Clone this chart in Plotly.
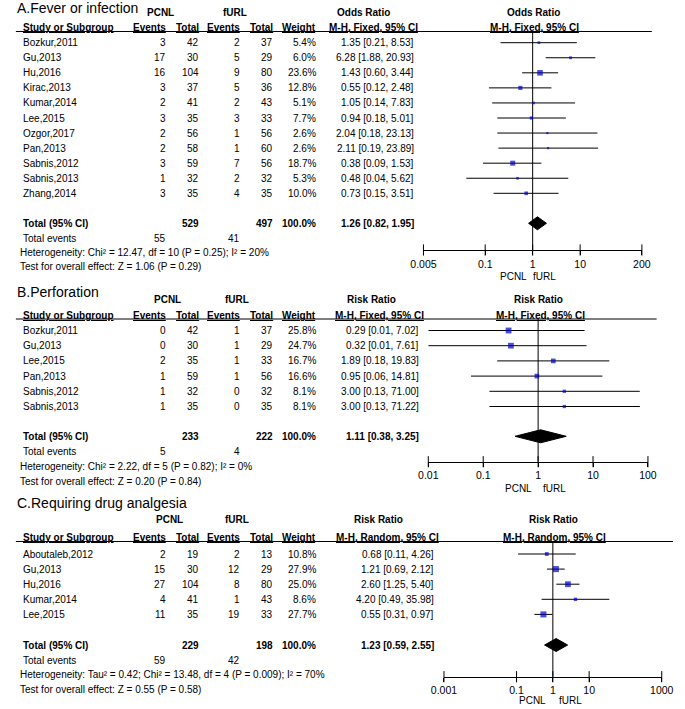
import math
import plotly.graph_objects as go

W, H = 685, 709
FONT = "Liberation Sans, Arial, sans-serif"

# ---------------- Panel A: Fever or infection ----------------
A_studies = ["Bozkur,2011", "Gu,2013", "Hu,2016", "Kirac,2013", "Kumar,2014", "Lee,2015",
             "Ozgor,2017", "Pan,2013", "Sabnis,2012", "Sabnis,2013", "Zhang,2014"]
A_pcnl_events = [3, 17, 16, 3, 2, 3, 2, 2, 3, 1, 3]
A_pcnl_total = [42, 30, 104, 37, 41, 35, 56, 58, 59, 32, 35]
A_furl_events = [2, 5, 9, 5, 2, 3, 1, 1, 7, 2, 4]
A_furl_total = [37, 29, 80, 36, 43, 33, 56, 60, 56, 32, 35]
A_weight = [5.4, 6.0, 23.6, 12.8, 5.1, 7.7, 2.6, 2.6, 18.7, 5.3, 10.0]
A_est = [1.35, 6.28, 1.43, 0.55, 1.05, 0.94, 2.04, 2.11, 0.38, 0.48, 0.73]
A_lo = [0.21, 1.88, 0.60, 0.12, 0.14, 0.18, 0.18, 0.19, 0.09, 0.04, 0.15]
A_hi = [8.53, 20.93, 3.44, 2.48, 7.83, 5.01, 23.13, 23.89, 1.53, 5.62, 3.51]
A_total = [529, 497]
A_total_events = [55, 41]
A_pooled = [1.26, 0.82, 1.95]
A_het = "Heterogeneity: Chi² = 12.47, df = 10 (P = 0.25); I² = 20%"
A_test = "Test for overall effect: Z = 1.06 (P = 0.29)"
A_ticks = [0.005, 0.1, 1, 10, 200]
A_ticklabels = ["0.005", "0.1", "1", "10", "200"]

# ---------------- Panel B: Perforation ----------------
B_studies = ["Bozkur,2011", "Gu,2013", "Lee,2015", "Pan,2013", "Sabnis,2012", "Sabnis,2013"]
B_pcnl_events = [0, 0, 2, 1, 1, 1]
B_pcnl_total = [42, 30, 35, 59, 32, 35]
B_furl_events = [1, 1, 1, 1, 0, 0]
B_furl_total = [37, 29, 33, 56, 32, 35]
B_weight = [25.8, 24.7, 16.7, 16.6, 8.1, 8.1]
B_est = [0.29, 0.32, 1.89, 0.95, 3.00, 3.00]
B_lo = [0.01, 0.01, 0.18, 0.06, 0.13, 0.13]
B_hi = [7.02, 7.61, 19.83, 14.81, 71.00, 71.22]
B_total = [233, 222]
B_total_events = [5, 4]
B_pooled = [1.11, 0.38, 3.25]
B_het = "Heterogeneity: Chi² = 2.22, df = 5 (P = 0.82); I² = 0%"
B_test = "Test for overall effect: Z = 0.20 (P = 0.84)"
B_ticks = [0.01, 0.1, 1, 10, 100]
B_ticklabels = ["0.01", "0.1", "1", "10", "100"]

# ---------------- Panel C: Requiring drug analgesia ----------------
C_studies = ["Aboutaleb,2012", "Gu,2013", "Hu,2016", "Kumar,2014", "Lee,2015"]
C_pcnl_events = [2, 15, 27, 4, 11]
C_pcnl_total = [19, 30, 104, 41, 35]
C_furl_events = [2, 12, 8, 1, 19]
C_furl_total = [13, 29, 80, 43, 33]
C_weight = [10.8, 27.9, 25.0, 8.6, 27.7]
C_est = [0.68, 1.21, 2.60, 4.20, 0.55]
C_lo = [0.11, 0.69, 1.25, 0.49, 0.31]
C_hi = [4.26, 2.12, 5.40, 35.98, 0.97]
C_total = [229, 198]
C_total_events = [59, 42]
C_pooled = [1.23, 0.59, 2.55]
C_het = "Heterogeneity: Tau² = 0.42; Chi² = 13.48, df = 4 (P = 0.009); I² = 70%"
C_test = "Test for overall effect: Z = 0.55 (P = 0.58)"
C_ticks = [0.001, 0.1, 1, 10, 1000]
C_ticklabels = ["0.001", "0.1", "1", "10", "1000"]

panels = [
    dict(title="A.Fever or infection", measure="Odds Ratio", method="M-H, Fixed, 95% CI",
         studies=A_studies, e1=A_pcnl_events, t1=A_pcnl_total, e2=A_furl_events, t2=A_furl_total,
         w=A_weight, est=A_est, lo=A_lo, hi=A_hi, tot=A_total, tev=A_total_events, pooled=A_pooled,
         het=A_het, test=A_test, ticks=A_ticks, ticklabels=A_ticklabels,
         ax="x", axname="xaxis",
         y_title=7.5, y_grp=12.5, y_hdr=27, y_rule=31.5, y_row0=42.7, step=15.06,
         y_total=223.3, y_tev=238.3, y_het=252.7, y_test=266.7, y_axis=250, y_dir=276,
         x_eff=415.7, x_meas=364, x_meth=374, x_pmeas=540, x_pmeth=541.5,
         x_pcnl=153, x_furl=230, rule_end=663, dom=(426, 652.7),
         dir_l=533.3, dir_r=540),
    dict(title="B.Perforation", measure="Risk Ratio", method="M-H, Fixed, 95% CI",
         studies=B_studies, e1=B_pcnl_events, t1=B_pcnl_total, e2=B_furl_events, t2=B_furl_total,
         w=B_weight, est=B_est, lo=B_lo, hi=B_hi, tot=B_total, tev=B_total_events, pooled=B_pooled,
         het=B_het, test=B_test, ticks=B_ticks, ticklabels=B_ticklabels,
         ax="x2", axname="xaxis2",
         y_title=291.7, y_grp=299, y_hdr=315, y_rule=319, y_row0=330.5, step=15.2,
         y_total=436.3, y_tev=451.3, y_het=466, y_test=481, y_axis=461.7, y_dir=488.3,
         x_eff=421, x_meas=372, x_meth=380, x_pmeas=545.5, x_pmeth=547.5,
         x_pcnl=160, x_furl=233, rule_end=668, dom=(431, 659),
         dir_l=538.3, dir_r=550),
    dict(title="C.Requiring drug analgesia", measure="Risk Ratio", method="M-H, Random, 95% CI",
         studies=C_studies, e1=C_pcnl_events, t1=C_pcnl_total, e2=C_furl_events, t2=C_furl_total,
         w=C_weight, est=C_est, lo=C_lo, hi=C_hi, tot=C_total, tev=C_total_events, pooled=C_pooled,
         het=C_het, test=C_test, ticks=C_ticks, ticklabels=C_ticklabels,
         ax="x3", axname="xaxis3",
         y_title=502.5, y_grp=519, y_hdr=537, y_rule=541.5, y_row0=554, step=15.1,
         y_total=645, y_tev=660, y_het=674.5, y_test=689, y_axis=676.7, y_dir=700,
         x_eff=437, x_meas=379, x_meth=389, x_pmeas=561, x_pmeth=562.5,
         x_pcnl=162, x_furl=232, rule_end=685, dom=(447.3, 673.3),
         dir_l=553.3, dir_r=566.7),
]

# column right edges (px)
X_NAME, X_E1, X_T1, X_E2, X_T2, X_W = 10, 159, 193, 236, 270, 314

fig = go.Figure()


def P(x):
    return x / W


def txt(x, y, s, anchor="left", bold=False, size=10, underline=False):
    if bold:
        s = "<b>" + s + "</b>"
    if underline:
        s = "<u>" + s + "</u>"
    fig.add_annotation(x=P(x), y=y, xref="paper", yref="y", text=s, showarrow=False,
                       xanchor=anchor, yanchor="middle", borderpad=0, borderwidth=0,
                       font=dict(family=FONT, size=size, color="black"))


shapes = []
layout_axes = {}

for p in panels:
    ax = p["ax"]
    # titles and headers
    txt(4, p["y_title"], p["title"], size=14)
    txt(p["x_pcnl"], p["y_grp"], "PCNL", anchor="center", bold=True)
    txt(p["x_furl"], p["y_grp"], "fURL", anchor="center", bold=True)
    txt(p["x_meas"], p["y_grp"], p["measure"], anchor="center", bold=True)
    txt(p["x_pmeas"], p["y_grp"], p["measure"], anchor="center", bold=True)
    txt(X_NAME, p["y_hdr"], "Study or Subgroup", bold=True, underline=True)
    txt(X_E1, p["y_hdr"], "Events", anchor="right", bold=True, underline=True)
    txt(X_T1, p["y_hdr"], "Total", anchor="right", bold=True, underline=True)
    txt(X_E2, p["y_hdr"], "Events", anchor="right", bold=True, underline=True)
    txt(X_T2, p["y_hdr"], "Total", anchor="right", bold=True, underline=True)
    txt(X_W, p["y_hdr"], "Weight", anchor="right", bold=True, underline=True)
    txt(p["x_meth"], p["y_hdr"], p["method"], anchor="center", bold=True, underline=True)
    txt(p["x_pmeth"], p["y_hdr"], p["method"], anchor="center", bold=True, underline=True)
    shapes.append(dict(type="line", xref="paper", yref="y", x0=P(3), x1=P(p["rule_end"]),
                       y0=p["y_rule"], y1=p["y_rule"], line=dict(color="black", width=1)))

    rows_y = [p["y_row0"] + i * p["step"] for i in range(len(p["studies"]))]
    for i, yy in enumerate(rows_y):
        txt(X_NAME, yy, p["studies"][i])
        txt(X_E1, yy, str(p["e1"][i]), anchor="right")
        txt(X_T1, yy, str(p["t1"][i]), anchor="right")
        txt(X_E2, yy, str(p["e2"][i]), anchor="right")
        txt(X_T2, yy, str(p["t2"][i]), anchor="right")
        txt(X_W, yy, "%.1f%%" % p["w"][i], anchor="right")
        txt(p["x_eff"], yy, "%.2f [%.2f, %.2f]" % (p["est"][i], p["lo"][i], p["hi"][i]), anchor="right")

    # totals
    txt(X_NAME, p["y_total"], "Total (95% CI)", bold=True)
    txt(X_T1, p["y_total"], str(p["tot"][0]), anchor="right", bold=True)
    txt(X_T2, p["y_total"], str(p["tot"][1]), anchor="right", bold=True)
    txt(X_W, p["y_total"], "100.0%", anchor="right", bold=True)
    txt(p["x_eff"], p["y_total"], "%.2f [%.2f, %.2f]" % tuple(p["pooled"]), anchor="right", bold=True)
    txt(X_NAME, p["y_tev"], "Total events")
    txt(X_E1, p["y_tev"], str(p["tev"][0]), anchor="right")
    txt(X_E2, p["y_tev"], str(p["tev"][1]), anchor="right")
    txt(7, p["y_het"], p["het"])
    txt(7, p["y_test"], p["test"])

    # direction labels
    txt(p["dir_l"], p["y_dir"], "PCNL", anchor="right")
    txt(p["dir_r"], p["y_dir"], "fURL", anchor="left")

    # line of no effect
    fig.add_trace(go.Scatter(x=[1, 1], y=[p["y_rule"], p["y_axis"]], xaxis=ax, yaxis="y",
                             mode="lines", line=dict(color="black", width=1),
                             hoverinfo="skip", showlegend=False))
    # CI lines
    cx, cy = [], []
    for i, yy in enumerate(rows_y):
        cx += [p["lo"][i], p["hi"][i], None]
        cy += [yy, yy, None]
    fig.add_trace(go.Scatter(x=cx, y=cy, xaxis=ax, yaxis="y", mode="lines",
                             line=dict(color="black", width=1), hoverinfo="skip", showlegend=False))
    # study boxes
    fig.add_trace(go.Scatter(x=p["est"], y=rows_y, xaxis=ax, yaxis="y", mode="markers",
                             marker=dict(symbol="square", color="#0000CC",
                                         size=[max(2.2, 1.15 * math.sqrt(w)) for w in p["w"]],
                                         line=dict(width=0)),
                             cliponaxis=False, hoverinfo="skip", showlegend=False))
    # pooled diamond
    est, lo, hi = p["pooled"]
    yt = p["y_total"]
    fig.add_trace(go.Scatter(x=[lo, est, hi, est, lo], y=[yt, yt - 6.5, yt, yt + 6.5, yt],
                             xaxis=ax, yaxis="y", mode="lines", fill="toself",
                             fillcolor="black", line=dict(color="black", width=1),
                             hoverinfo="skip", showlegend=False))
    # cross tick marks
    fig.add_trace(go.Scatter(x=p["ticks"], y=[p["y_axis"]] * len(p["ticks"]), xaxis=ax, yaxis="y",
                             mode="markers", cliponaxis=False,
                             marker=dict(symbol="line-ns", size=8, line=dict(color="black", width=1)),
                             hoverinfo="skip", showlegend=False))

    layout_axes[p["axname"]] = dict(
        type="log", range=[math.log10(p["ticks"][0]), math.log10(p["ticks"][-1])],
        domain=[P(p["dom"][0]), P(p["dom"][1])], anchor="free", position=1 - p["y_axis"] / H,
        showline=True, linecolor="black", linewidth=1, ticks="outside", ticklen=4,
        tickcolor="black", tickwidth=1, tickmode="array", tickvals=p["ticks"],
        ticktext=p["ticklabels"], tickfont=dict(family=FONT, size=10.5, color="black"),
        showgrid=False, zeroline=False, fixedrange=True)

fig.update_layout(
    width=W, height=H, margin=dict(l=0, r=0, t=0, b=0),
    paper_bgcolor="white", plot_bgcolor="rgba(0,0,0,0)",
    showlegend=False, shapes=shapes,
    yaxis=dict(range=[H, 0], domain=[0, 1], visible=False, anchor="free", position=0,
               fixedrange=True),
    **layout_axes,
)

fig.write_html("out.html", config={"displayModeBar": False},
               post_script="document.body.style.margin='0px';document.body.style.padding='0px';")
